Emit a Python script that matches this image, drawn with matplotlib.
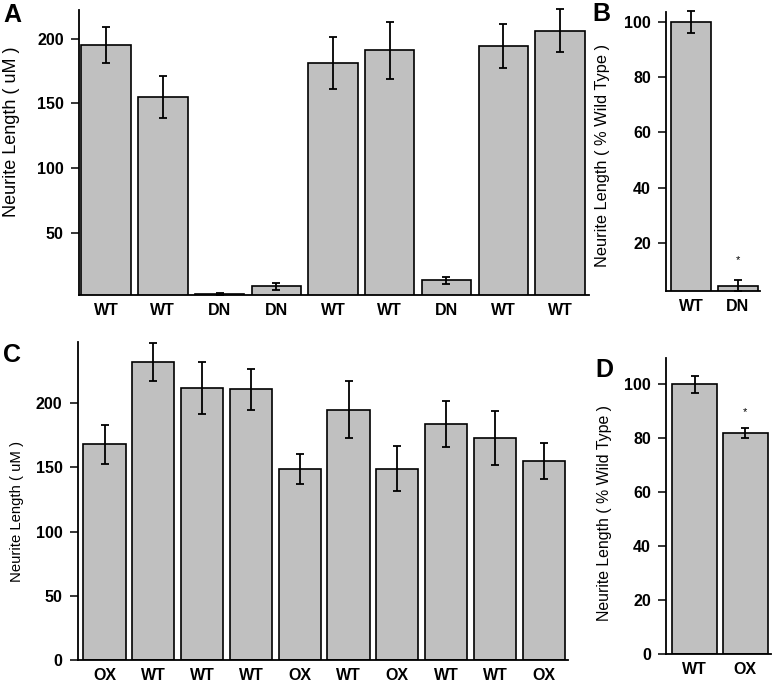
import matplotlib
matplotlib.use('Agg')
import matplotlib.pyplot as plt
import numpy as np

plt.rcParams['font.family'] = ['Liberation Sans', 'DejaVu Sans']

# Panel A: neurite length (uM)
a_labels = ['WT', 'WT', 'DN', 'DN', 'WT', 'WT', 'DN', 'WT', 'WT']
a_means = [195, 155, 3, 9, 181, 191, 13.5, 194, 206]
a_errs = [14, 16, 1, 2.5, 20, 22, 3, 17, 16.5]

# Panel B: % wild type
b_labels = ['WT', 'DN']
b_means = [100, 4.5]
b_errs = [4, 2]

# Panel C: neurite length (uM)
c_labels = ['OX', 'WT', 'WT', 'WT', 'OX', 'WT', 'OX', 'WT', 'WT', 'OX']
c_means = [168, 232, 212, 211, 149, 195, 149, 184, 173, 155]
c_errs = [15, 15, 20, 16, 11.5, 22, 17.5, 17.7, 21, 14]

# Panel D: % wild type
d_labels = ['WT', 'OX']
d_means = [100, 82]
d_errs = [3.3, 2]

BAR = '#c0c0c0'


def panel(ax, labels, means, errs, width, xlim, ylim, yticks, ylabel, lab_x, lab_y, lab_size):
  x = np.arange(len(means))
  ax.bar(x, means, width=width, color=BAR, edgecolor='black', linewidth=1.2, zorder=2)
  ax.errorbar(x, means, yerr=errs, fmt='none', ecolor='black', elinewidth=1.3,
              capsize=3.2, capthick=1.3, zorder=3, clip_on=False)
  ax.set_xlim(*xlim)
  ax.set_ylim(*ylim)
  ax.set_xticks(x)
  ax.set_xticklabels(labels, fontsize=11.5, fontweight='bold')
  ax.set_yticks(yticks)
  ax.set_yticklabels([str(t) for t in yticks], fontsize=11.5, fontweight='bold')
  ax.tick_params(axis='x', length=0, pad=6)
  ax.tick_params(axis='y', length=6, width=1.1, pad=5, direction='out')
  for s in ['top', 'right']:
    ax.spines[s].set_visible(False)
  for s in ['left', 'bottom']:
    ax.spines[s].set_linewidth(1.3)
  ax.set_ylabel(ylabel, fontsize=lab_size)
  ax.yaxis.set_label_coords(lab_x, lab_y)


fig = plt.figure(figsize=(7.75, 6.83), dpi=100)

axA = fig.add_axes([0.1019, 0.5681, 0.6587, 0.4173])
panel(axA, a_labels, a_means, a_errs, 0.87, (-0.478, 8.52), (2.3, 222),
      [50, 100, 150, 200], 'Neurite Length ( uM )', -0.116, 0.574, 13)

axB = fig.add_axes([0.8594, 0.5739, 0.1212, 0.4090])
panel(axB, b_labels, b_means, b_errs, 0.855, (-0.534, 1.474), (2.5, 103.7),
      [20, 40, 60, 80, 100], 'Neurite Length ( % Wild Type )', -0.596, 0.484, 11.8)
axB.text(1, 13.7, '*', ha='center', va='center', fontsize=8)

axC = fig.add_axes([0.1003, 0.0337, 0.6326, 0.4660])
panel(axC, c_labels, c_means, c_errs, 0.865, (-0.549, 9.498), (0, 248),
      [0, 50, 100, 150, 200], 'Neurite Length ( uM )', -0.110, 0.466, 10.7)

axD = fig.add_axes([0.8594, 0.0425, 0.1351, 0.4329])
panel(axD, d_labels, d_means, d_errs, 0.874, (-0.561, 1.5), (0, 109.7),
      [0, 20, 40, 60, 80, 100], 'Neurite Length ( % Wild Type )', -0.519, 0.476, 11.4)
axD.text(1, 89.9, '*', ha='center', va='center', fontsize=8)

# Panel letters
for lx, ly, s in [(0.0039, 0.9678, 'A'), (0.7639, 0.9697, 'B'),
                  (0.0039, 0.4704, 'C'), (0.7677, 0.4485, 'D')]:
  fig.text(lx, ly, s, fontsize=18, fontweight='bold', ha='left', va='baseline')

fig.savefig('out.png', dpi=100)
